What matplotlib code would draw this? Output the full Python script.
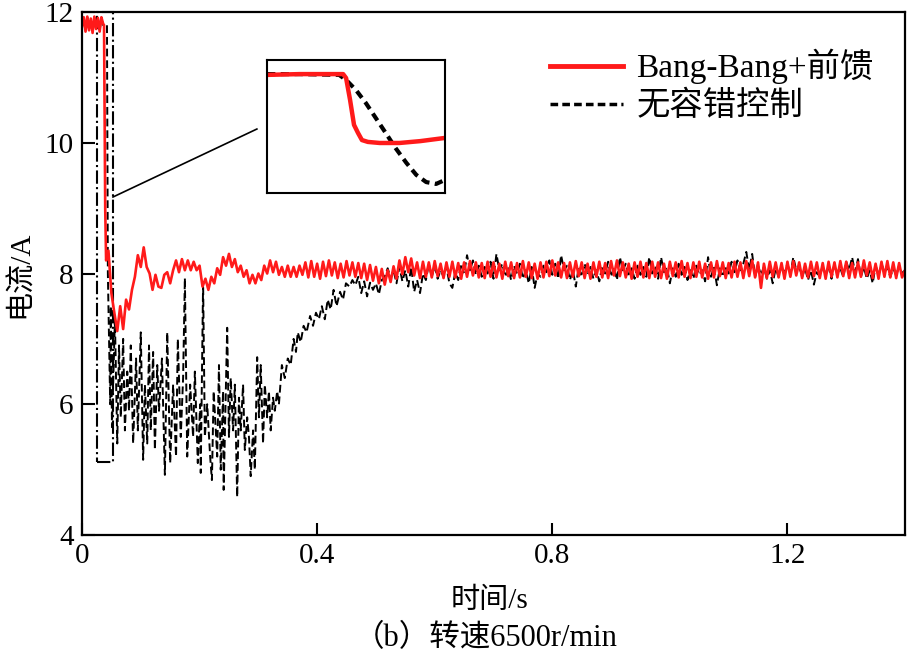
import numpy as np
import matplotlib
matplotlib.use("Agg")
import matplotlib.pyplot as plt
from matplotlib.lines import Line2D
from matplotlib.patches import Rectangle

plt.rcParams['font.family'] = ['Liberation Serif', 'Noto Sans CJK SC']
plt.rcParams['font.size'] = 21

# ---- data ----
# Bang-Bang + feedforward (red), before and during the fault
red_early_t = [0.000, 0.003, 0.006, 0.009, 0.012, 0.015, 0.018, 0.021, 0.024,
               0.027, 0.030, 0.033, 0.036, 0.0375, 0.0385, 0.0395, 0.041]
red_early_v = [11.78, 11.92, 11.70, 11.93, 11.72, 11.90, 11.68, 11.93, 11.74,
               11.91, 11.70, 11.92, 11.82, 11.80, 10.40, 9.00, 8.20]
# red on a 5 ms grid starting at 0.045 s
red_t0 = 0.045
red_dt = 0.005
red_v = [
    8.35, 7.70, 7.40, 7.12, 7.50, 7.15, 7.60, 7.45, 7.75, 7.95, 8.28, 8.10, 8.40, 8.10, 8.00, 7.75, 7.98, 7.80, 7.78, 7.98,
    8.02, 7.85, 8.05, 8.20, 8.02, 8.22, 8.05, 8.20, 8.05, 8.18, 8.05, 8.12, 7.80, 7.92, 7.75, 7.95, 7.85, 8.08, 7.98, 8.25,
    8.12, 8.30, 8.10, 8.22, 8.02, 8.12, 7.95, 8.05, 7.85, 7.98, 7.85, 8.00, 7.90, 8.12, 8.00, 8.20, 8.02, 8.18, 7.98, 8.10,
    7.95, 8.12, 7.95, 8.10, 7.95, 8.12, 7.98,
    8.17, 7.94, 8.19, 7.95, 8.15, 7.92, 8.18, 7.96, 8.20, 7.97, 8.17, 7.93, 8.15, 7.94, 8.19, 7.97, 8.17, 7.95, 8.16, 7.93,
    8.15, 7.90, 8.13, 7.89, 8.10, 7.85, 8.07, 7.83, 8.05, 7.87, 8.11, 7.92, 8.20, 7.99, 8.25, 8.02, 8.23, 7.97, 8.17, 7.93,
    8.18, 7.95, 8.17, 7.94, 8.19, 7.96, 8.15, 7.93, 8.17, 7.95, 8.18, 7.94, 8.16, 7.92, 8.17, 7.95, 8.19, 7.97, 8.17, 7.94,
    8.16, 7.93, 8.18, 7.95, 8.17, 7.94, 8.15, 7.92, 8.18, 7.96, 8.17, 7.93, 8.16, 7.94, 8.19, 7.95, 8.17, 7.93, 8.15, 7.92,
    8.17, 7.94, 8.18, 7.96, 8.20, 7.97, 8.17, 7.94, 8.16, 7.93, 8.17, 7.95, 8.19, 7.96, 8.17, 7.93, 8.15, 7.92, 8.17, 7.95,
    8.18, 7.94, 8.16, 7.93, 8.19, 7.97, 8.20, 7.96, 8.17, 7.94, 8.15, 7.92, 8.17, 7.95, 8.18, 7.94, 8.16, 7.93, 8.18, 7.95,
    8.17, 7.93, 8.15, 7.92, 8.18, 7.96, 8.17, 7.94, 8.19, 7.95, 8.16, 7.93, 8.17, 7.95, 8.18, 7.94, 8.15, 7.92, 8.17, 7.94,
    8.19, 7.96, 8.17, 7.93, 8.16, 7.94, 8.18, 7.95, 8.17, 7.93, 8.19, 7.96, 8.20, 7.94, 8.17, 7.78, 8.15, 7.93, 8.18, 7.95,
    8.17, 7.94, 8.16, 7.92, 8.18, 7.95, 8.19, 7.97, 8.17, 7.93, 8.15, 7.94, 8.18, 7.96, 8.17, 7.93, 8.16, 7.92, 8.18, 7.95,
    8.17, 7.94, 8.19, 7.96, 8.18, 7.93, 8.16, 7.94, 8.17, 7.95, 8.20, 7.97, 8.17, 7.93, 8.15, 7.92, 8.18, 7.95, 8.19, 7.94,
    8.17, 7.93, 8.16, 7.94, 8.05,
]

# no fault-tolerant control (black dashed), irregular samples up to ~0.45 s
black_early_t = [
    0.000, 0.003, 0.006, 0.009, 0.012, 0.015, 0.018, 0.021, 0.024, 0.027, 0.030, 0.033, 0.036, 0.039, 0.0425,
    0.044, 0.048, 0.049, 0.051, 0.056, 0.060, 0.063, 0.066, 0.070, 0.073, 0.077, 0.080, 0.083, 0.087, 0.092,
    0.095, 0.100, 0.104, 0.107, 0.111, 0.114, 0.117, 0.121, 0.124, 0.128, 0.131, 0.136, 0.141, 0.145, 0.150,
    0.155, 0.160, 0.163, 0.168, 0.172, 0.175, 0.179, 0.184, 0.189, 0.192, 0.197, 0.201, 0.202, 0.206, 0.209,
    0.213, 0.218, 0.221, 0.224, 0.230, 0.233, 0.236, 0.240, 0.241, 0.247, 0.250, 0.253, 0.257, 0.260, 0.264,
    0.267, 0.270, 0.274, 0.277, 0.281, 0.284, 0.287, 0.291, 0.294, 0.298, 0.301, 0.304, 0.308, 0.311, 0.315,
    0.318, 0.321, 0.325, 0.328, 0.332, 0.335, 0.340, 0.345, 0.350, 0.355, 0.360, 0.364, 0.367, 0.372, 0.377,
    0.382, 0.388, 0.393, 0.398, 0.403, 0.408, 0.413, 0.418, 0.423, 0.428, 0.433, 0.439, 0.444, 0.449,
]
black_early_v = [
    11.80, 11.90, 11.74, 11.92, 11.75, 11.88, 11.72, 11.92, 11.76, 11.90, 11.72, 11.90, 11.80, 11.82, 11.80,
    8.00, 6.00, 7.50, 5.65, 7.30, 5.40, 6.90, 5.80, 7.00, 5.60, 6.50, 5.90, 6.90, 5.40, 6.70,
    5.60, 7.10, 5.15, 6.30, 5.40, 6.90, 5.60, 6.80, 5.30, 6.60, 5.90, 6.70, 4.92, 7.10, 5.10,
    6.30, 5.20, 7.00, 5.50, 6.40, 7.93, 5.20, 6.30, 5.50, 6.50, 5.10, 6.00, 4.95, 7.86, 5.50,
    6.00, 5.20, 4.84, 6.20, 5.20, 6.60, 5.00, 6.20, 4.69, 7.17, 5.50, 6.40, 5.60, 6.30, 4.58,
    6.10, 5.60, 6.30, 5.30, 5.80, 5.50, 4.90, 5.60, 5.00, 6.72, 5.80, 6.60, 5.40, 6.30, 5.80,
    6.20, 5.60, 6.10, 5.90, 6.20, 6.00, 6.60, 6.40, 6.70, 6.60, 7.00, 6.80, 7.10, 6.95, 7.20,
    7.10, 7.35, 7.20, 7.40, 7.30, 7.50, 7.30, 7.60, 7.45, 7.75, 7.50, 7.72, 7.60, 7.85,
]
# black on a 5 ms grid from 0.455 s
black_t0 = 0.455
black_dt = 0.005
black_v = [
    7.80, 7.90, 7.82, 7.95, 7.70, 7.88, 7.65, 7.86, 7.75, 7.85, 7.68, 7.90, 7.95, 8.08, 7.93, 8.05, 7.85, 8.10, 7.88, 8.05,
    7.80, 8.10, 7.72, 7.90, 7.70, 8.00, 7.90, 8.15, 7.95, 8.12, 7.92, 8.05, 7.95, 8.10, 7.85, 7.78, 8.02, 7.90, 8.15, 8.00,
    8.28, 8.05, 8.20, 7.98, 8.12, 7.95, 8.10, 8.00, 8.18, 7.92, 8.30, 8.05, 8.15, 7.95, 8.08, 7.90, 8.12, 8.00, 8.15, 7.92,
    8.05, 7.85, 8.10, 7.78, 8.00, 7.95, 8.12, 8.02, 8.20, 7.98, 8.15, 7.92, 8.28, 8.05, 8.12, 7.90, 8.05, 7.80, 8.10, 7.95,
    8.15, 7.98, 8.10, 7.92, 8.05, 7.88, 8.12, 8.00, 8.18, 7.95, 8.10, 7.90, 8.25, 8.05, 8.15, 7.95, 8.08, 7.92, 8.12, 7.98,
    8.10, 7.95, 8.25, 8.00, 8.12, 7.92, 8.25, 8.02, 8.10, 7.85, 8.08, 7.95, 8.15, 7.98, 8.10, 7.90, 8.05, 7.92, 8.12, 7.98,
    8.05, 7.88, 8.25, 7.95, 8.10, 7.82, 8.08, 7.95, 8.12, 8.00, 8.18, 8.02, 8.20, 8.05, 8.15, 8.33, 8.05, 8.30, 7.95, 8.12,
    7.98, 8.10, 7.92, 8.05, 7.85, 8.08, 7.95, 8.12, 8.00, 8.15, 7.98, 8.25, 8.05, 8.10, 7.95, 8.08, 7.90, 8.05, 7.83, 8.02,
    7.95, 8.12, 7.98, 8.10, 7.92, 8.15, 8.00, 8.08, 7.95, 8.18, 8.05, 8.25, 8.02, 8.22, 7.95, 8.10, 7.92, 8.05, 7.85, 8.12,
    7.98, 8.15, 8.02, 8.10, 7.95, 8.08, 7.97, 8.12, 8.00, 8.05,
]

# inset: close-up of the drop
inset_red_t = [0.0300, 0.0333, 0.0377, 0.0380, 0.0384, 0.0388, 0.0392, 0.0396, 0.0402, 0.0414, 0.0434, 0.0455, 0.0480]
inset_red_v = [11.82, 11.85, 11.85, 11.70, 10.88, 9.94, 9.64, 9.37, 9.30, 9.26, 9.26, 9.33, 9.45]
inset_black_t = [0.0300, 0.0333, 0.0373, 0.0380, 0.0390, 0.0400, 0.0410, 0.0420, 0.0430, 0.0441, 0.0451, 0.0461, 0.0471, 0.0480]
inset_black_v = [11.85, 11.85, 11.82, 11.63, 11.25, 10.76, 10.20, 9.64, 9.07, 8.51, 8.06, 7.79, 7.72, 7.87]

# zoom box in the main axes
box_x = (0.0255, 0.0527)
box_y = (5.12, 12.0)

red_t = np.concatenate([red_early_t, red_t0 + red_dt * np.arange(len(red_v))])
red_all = np.concatenate([red_early_v, red_v])
black_t = np.concatenate([black_early_t, black_t0 + black_dt * np.arange(len(black_v))])
black_all = np.concatenate([black_early_v, black_v])

fig = plt.figure(figsize=(9.07, 6.6), dpi=100)
ax = fig.add_axes([0.0904, 0.1894, 0.9074, 0.7924])

ax.plot(black_t, black_all, color='black', lw=1.4, ls=(0, (4, 2)))
ax.plot(red_t, red_all, color='#ff1a1a', lw=1.9)

ax.set_xlim(0, 1.4)
ax.set_ylim(4, 12)
ax.set_xticks([0, 0.4, 0.8, 1.2])
ax.set_xticklabels(['0', '0.4', '0.8', '1.2'])
ax.set_yticks([4, 6, 8, 10, 12])
ax.tick_params(direction='in', length=9, width=1.5, pad=6)
for s in ax.spines.values():
    s.set_linewidth(1.6)

# zoom box and connector
ax.add_patch(Rectangle((box_x[0], box_y[0]), box_x[1] - box_x[0], box_y[1] - box_y[0],
                       fill=False, ls='-.', lw=1.5, color='black', clip_on=False))
ax.plot([box_x[1], 0.2975], [9.17, 10.21], color='black', lw=1.2)

# legend
handles = [Line2D([], [], color='#ff1a1a', lw=3.5),
           Line2D([], [], color='black', lw=2.5, ls=(0, (2.2, 1.2)))]
ax.legend(handles, ['Bang-Bang+前馈', '无容错控制'], loc='upper right',
          bbox_to_anchor=(0.978, 0.955), frameon=False, fontsize=24,
          handlelength=2.2, handletextpad=0.4, labelspacing=0.2, borderaxespad=0)

# inset
axin = fig.add_axes([0.2944, 0.7076, 0.1962, 0.2015])
axin.plot(inset_black_t, inset_black_v, color='black', lw=3, ls=(0, (2, 1.3)))
axin.plot(inset_red_t, inset_red_v, color='#ff1a1a', lw=3.2)
axin.set_xlim(0.030, 0.048)
axin.set_ylim(7.38, 12.38)
axin.set_xticks([])
axin.set_yticks([])
for s in axin.spines.values():
    s.set_linewidth(1.5)

fig.text(0.022, 0.585, '电流/A', rotation=90, ha='center', va='center', fontsize=21)
fig.text(0.54, 0.09, '时间/s', ha='center', va='center', fontsize=21)
fig.text(0.535, 0.032, '（b）转速6500r/min', ha='center', va='center', fontsize=22)

fig.savefig('out.png', dpi=100)
